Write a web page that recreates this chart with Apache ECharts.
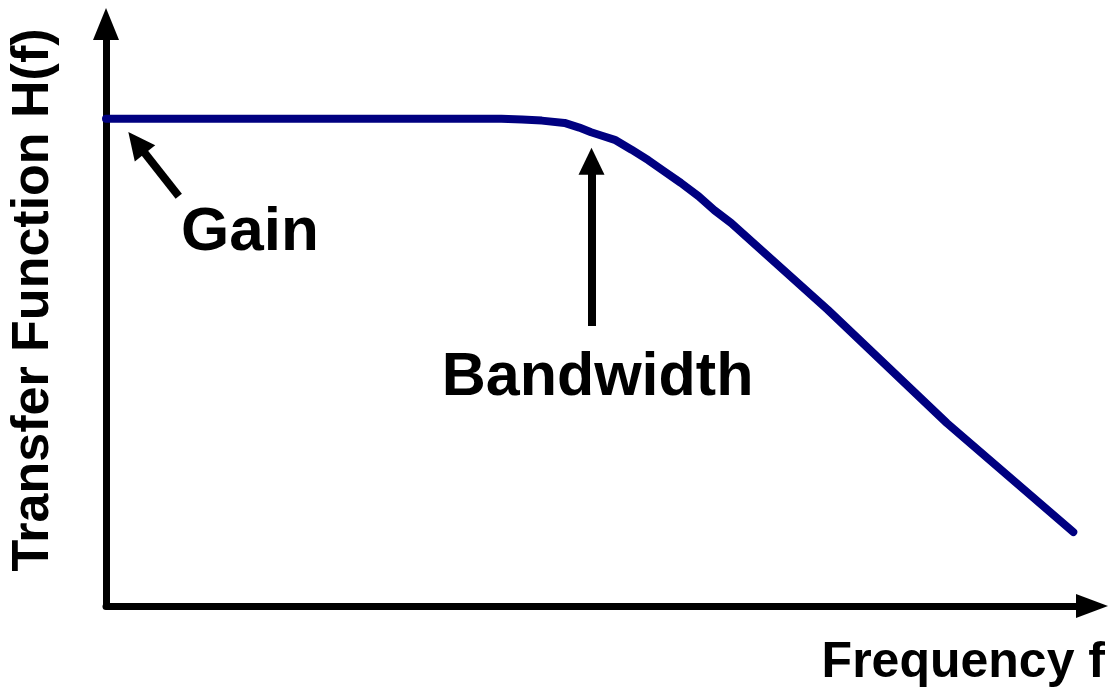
<!DOCTYPE html>
<html>
<head>
<meta charset="utf-8">
<title>Transfer Function</title>
<script src="https://cdn.jsdelivr.net/npm/echarts@6/dist/echarts.min.js"></script>
<style>
  html, body { margin: 0; padding: 0; background: #fff; }
  #chart { width: 1109px; height: 689px; }
</style>
</head>
<body>
<div id="chart"></div>
<script>
// frecuencia (unidades arbitrarias) y respuesta H(f)
var frecuencia = [0, 38.1, 40.1, 42.2, 44.2, 46.5, 48.0, 49.2, 50.3, 51.6, 53.3, 55.0, 56.6, 58.3, 60.1, 61.7, 63.4, 73.2, 85.3, 98.1];
var respuesta = [83.7, 83.7, 83.7, 83.6, 83.4, 83.0, 82.2, 81.4, 80.8, 80.1, 78.4, 76.6, 74.7, 72.7, 70.4, 68.0, 65.8, 50.9, 31.4, 12.7];

// flechas de anotacion: [inicio, fin]
var flechaGain = [[7.38, 70.4], [3.11, 79.6]];
var flechaBandwidth = [[49.24, 48.1], [49.24, 76.4]];

// textos de anotacion
var etiquetas = [
  { name: 'Gain', coord: [14.6, 64.1], size: 62 },
  { name: 'Bandwidth', coord: [49.85, 39.2], size: 61 }
];

var fuente = '"Liberation Sans", Arial, sans-serif';

var chart = echarts.init(document.getElementById('chart'));

var option = {
  backgroundColor: '#ffffff',
  animation: false,
  grid: { left: 103, right: 17, top: 24, bottom: 83 },
  xAxis: {
    type: 'value',
    min: 0,
    max: 100,
    name: 'Frequency f',
    nameLocation: 'end',
    nameGap: 13,
    nameTextStyle: {
      fontFamily: fuente,
      fontWeight: 'bold',
      fontSize: 50,
      color: '#000',
      align: 'right',
      verticalAlign: 'top',
      padding: [32, 0, 0, 0]
    },
    axisLine: {
      onZero: false,
      symbol: ['none', 'triangle'],
      symbolSize: [24, 32],
      lineStyle: { color: '#000', width: 7 }
    },
    axisTick: { show: false },
    axisLabel: { show: false },
    splitLine: { show: false }
  },
  yAxis: {
    type: 'value',
    min: 0,
    max: 100,
    name: 'Transfer Function H(f)',
    nameLocation: 'middle',
    nameRotate: 90,
    nameGap: 46,
    nameTextStyle: {
      fontFamily: fuente,
      fontWeight: 'bold',
      fontSize: 52,
      color: '#000',
      padding: [0, 0, 0, 30]
    },
    axisLine: {
      show: true,
      onZero: false,
      symbol: ['none', 'triangle'],
      symbolSize: [26, 32],
      lineStyle: { color: '#000', width: 7 }
    },
    axisTick: { show: false },
    axisLabel: { show: false },
    splitLine: { show: false }
  },
  series: [
    {
      type: 'line',
      data: frecuencia.map(function (f, i) { return [f, respuesta[i]]; }),
      showSymbol: false,
      lineStyle: { color: '#000080', width: 8, cap: 'round', join: 'round' },
      z: 3,
      markLine: {
        silent: true,
        symbol: ['none', 'triangle'],
        symbolSize: [26, 27],
        label: { show: false },
        lineStyle: { color: '#000', width: 8, type: 'solid' },
        data: [
          [{ coord: flechaGain[0] }, { coord: flechaGain[1] }],
          [{ coord: flechaBandwidth[0] }, { coord: flechaBandwidth[1] }]
        ]
      },
      markPoint: {
        silent: true,
        symbol: 'circle',
        symbolSize: 0,
        data: etiquetas.map(function (e) {
          return {
            name: e.name,
            coord: e.coord,
            label: {
              show: true,
              position: 'inside',
              formatter: '{b}',
              fontFamily: fuente,
              fontWeight: 'bold',
              fontSize: e.size,
              color: '#000'
            }
          };
        })
      }
    }
  ]
};

chart.setOption(option);
</script>
</body>
</html>
